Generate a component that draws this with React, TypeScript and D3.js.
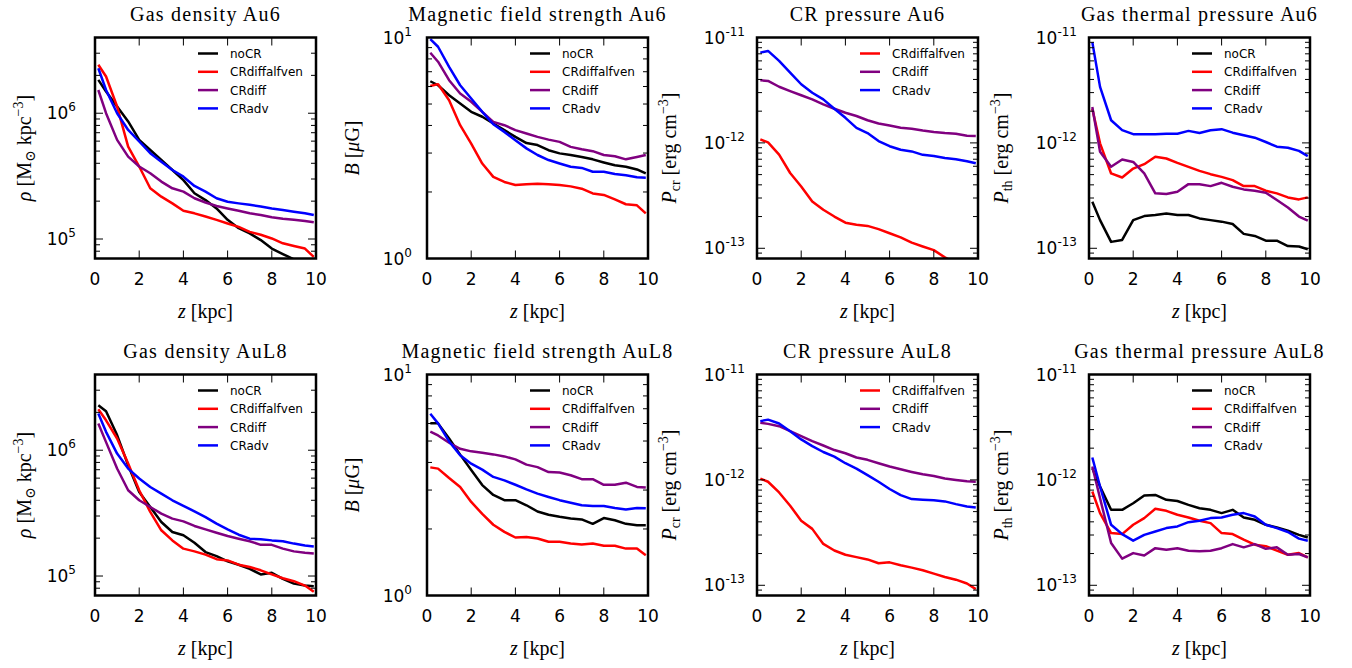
import React from 'react';
import * as d3 from 'd3';

// height above the mid-plane [kpc]
const Z = [0.15, 0.5, 1, 1.5, 2, 2.5, 3, 3.5, 4, 4.5, 5, 5.5, 6, 6.5, 7, 7.5, 8, 8.5, 9, 9.5, 9.9];

const X_TICKS = [0, 2, 4, 6, 8, 10];

// ---- Au6 ----
const rhoAu6_noCR = [1.84e6, 1.49e6, 1.13e6, 8.6e5, 6.14e5, 5.1e5, 4.26e5, 3.54e5, 2.94e5, 2.31e5, 2.04e5, 1.75e5, 1.42e5, 1.22e5, 1.11e5, 9.8e4, 8.4e4, 7.6e4, 6.9e4, 6.4e4, 6.0e4];
const rhoAu6_alf = [2.43e6, 1.96e6, 1.13e6, 5.43e5, 3.77e5, 2.53e5, 2.17e5, 1.92e5, 1.68e5, 1.6e5, 1.51e5, 1.42e5, 1.33e5, 1.25e5, 1.14e5, 1.08e5, 1.01e5, 9.25e4, 8.8e4, 8.4e4, 7.2e4];
const rhoAu6_diff = [1.53e6, 1.0e6, 6.14e5, 4.52e5, 3.77e5, 3.33e5, 2.86e5, 2.53e5, 2.38e5, 2.11e5, 1.95e5, 1.83e5, 1.75e5, 1.68e5, 1.6e5, 1.55e5, 1.49e5, 1.45e5, 1.42e5, 1.39e5, 1.36e5];
const rhoAu6_adv = [2.28e6, 1.53e6, 1.0e6, 7.36e5, 5.96e5, 4.81e5, 4.12e5, 3.54e5, 3.13e5, 2.64e5, 2.38e5, 2.11e5, 1.98e5, 1.92e5, 1.87e5, 1.81e5, 1.75e5, 1.7e5, 1.65e5, 1.6e5, 1.55e5];

const bAu6_noCR = [6.34, 6.08, 5.48, 5.03, 4.61, 4.38, 4.08, 3.81, 3.55, 3.33, 3.26, 3.09, 2.99, 2.94, 2.88, 2.81, 2.72, 2.64, 2.6, 2.53, 2.43];
const bAu6_alf = [6.03, 6.15, 5.2, 4.01, 3.31, 2.69, 2.34, 2.22, 2.15, 2.17, 2.18, 2.17, 2.15, 2.12, 2.07, 1.97, 1.94, 1.85, 1.76, 1.74, 1.6];
const bAu6_diff = [8.53, 7.77, 6.41, 5.58, 5.12, 4.61, 4.15, 4.01, 3.81, 3.68, 3.55, 3.45, 3.37, 3.2, 3.12, 3.06, 2.94, 2.9, 2.81, 2.88, 2.94];
const bAu6_adv = [9.83, 9.08, 7.37, 6.08, 5.3, 4.61, 4.05, 3.74, 3.43, 3.15, 2.94, 2.79, 2.69, 2.6, 2.57, 2.47, 2.47, 2.41, 2.38, 2.33, 2.32];

const pcrAu6_alf = [1.08e-12, 1.01e-12, 7.74e-13, 5.18e-13, 3.86e-13, 2.78e-13, 2.32e-13, 2.0e-13, 1.75e-13, 1.67e-13, 1.63e-13, 1.52e-13, 1.39e-13, 1.27e-13, 1.13e-13, 1.04e-13, 9.6e-14, 8.2e-14, 7.2e-14, 6.4e-14, 5.9e-14];
const pcrAu6_diff = [3.93e-12, 3.87e-12, 3.41e-12, 3.1e-12, 2.83e-12, 2.59e-12, 2.32e-12, 2.11e-12, 1.93e-12, 1.8e-12, 1.64e-12, 1.53e-12, 1.46e-12, 1.39e-12, 1.36e-12, 1.31e-12, 1.27e-12, 1.24e-12, 1.22e-12, 1.17e-12, 1.16e-12];
const pcrAu6_adv = [7.19e-12, 7.46e-12, 6.0e-12, 4.64e-12, 3.6e-12, 2.99e-12, 2.59e-12, 2.11e-12, 1.73e-12, 1.39e-12, 1.24e-12, 1.04e-12, 9.3e-13, 8.6e-13, 8.3e-13, 7.7e-13, 7.5e-13, 7.2e-13, 7.0e-13, 6.7e-13, 6.4e-13];

const pthAu6_noCR = [2.77e-13, 1.85e-13, 1.15e-13, 1.2e-13, 1.85e-13, 2.02e-13, 2.07e-13, 2.14e-13, 2.07e-13, 2.07e-13, 1.92e-13, 1.85e-13, 1.79e-13, 1.7e-13, 1.37e-13, 1.31e-13, 1.18e-13, 1.18e-13, 1.05e-13, 1.04e-13, 9.8e-14];
const pthAu6_alf = [2.11e-12, 9.9e-13, 5.13e-13, 4.7e-13, 5.71e-13, 6.28e-13, 7.38e-13, 7.11e-13, 6.47e-13, 5.93e-13, 5.43e-13, 5.05e-13, 4.76e-13, 4.43e-13, 3.89e-13, 3.89e-13, 3.52e-13, 3.32e-13, 3.04e-13, 2.91e-13, 3.04e-13];
const pthAu6_diff = [2.19e-12, 8.22e-13, 5.93e-13, 6.95e-13, 6.6e-13, 5.13e-13, 3.32e-13, 3.27e-13, 3.44e-13, 4.06e-13, 4.06e-13, 3.89e-13, 4.18e-13, 3.84e-13, 3.62e-13, 3.52e-13, 3.37e-13, 2.87e-13, 2.44e-13, 2.0e-13, 1.83e-13];
const pthAu6_adv = [9.04e-12, 3.4e-12, 1.64e-12, 1.32e-12, 1.21e-12, 1.21e-12, 1.21e-12, 1.22e-12, 1.22e-12, 1.3e-12, 1.24e-12, 1.32e-12, 1.35e-12, 1.25e-12, 1.18e-12, 1.12e-12, 1.02e-12, 9.2e-13, 9.0e-13, 8.4e-13, 7.5e-13];

// ---- AuL8 ----
const rhoL8_noCR = [2.28e6, 2.04e6, 1.32e6, 7.6e5, 4.66e5, 3.54e5, 2.69e5, 2.24e5, 2.11e5, 1.84e5, 1.55e5, 1.44e5, 1.31e5, 1.23e5, 1.14e5, 1.03e5, 1.06e5, 9.5e4, 8.7e4, 8.4e4, 8.3e4];
const rhoL8_alf = [2.12e6, 1.73e6, 1.24e6, 7.83e5, 4.81e5, 3.23e5, 2.31e5, 1.92e5, 1.65e5, 1.57e5, 1.48e5, 1.36e5, 1.33e5, 1.23e5, 1.18e5, 1.11e5, 1.03e5, 9.6e4, 9.1e4, 8.4e4, 7.5e4];
const rhoL8_diff = [1.63e6, 1.16e6, 7.15e5, 4.81e5, 4.0e5, 3.54e5, 3.13e5, 2.86e5, 2.72e5, 2.5e5, 2.35e5, 2.21e5, 2.08e5, 1.98e5, 1.89e5, 1.77e5, 1.77e5, 1.65e5, 1.57e5, 1.53e5, 1.51e5];
const rhoL8_adv = [1.96e6, 1.4e6, 9.4e5, 7.15e5, 5.96e5, 5.1e5, 4.52e5, 4.0e5, 3.61e5, 3.27e5, 2.94e5, 2.61e5, 2.35e5, 2.13e5, 1.98e5, 1.96e5, 1.92e5, 1.89e5, 1.81e5, 1.75e5, 1.72e5];

const bL8_noCR = [6.01, 6.01, 5.14, 4.34, 3.7, 3.16, 2.85, 2.7, 2.7, 2.56, 2.4, 2.32, 2.27, 2.23, 2.21, 2.11, 2.24, 2.19, 2.11, 2.08, 2.08];
const bL8_alf = [3.8, 3.75, 3.4, 3.1, 2.65, 2.34, 2.09, 1.94, 1.83, 1.84, 1.81, 1.75, 1.75, 1.72, 1.7, 1.72, 1.68, 1.68, 1.63, 1.63, 1.52];
const bL8_diff = [5.52, 5.3, 4.91, 4.61, 4.49, 4.43, 4.35, 4.26, 4.13, 3.91, 3.81, 3.62, 3.6, 3.5, 3.36, 3.36, 3.17, 3.17, 3.24, 3.1, 3.08];
const bL8_adv = [6.64, 6.01, 4.98, 4.31, 3.95, 3.71, 3.44, 3.32, 3.17, 3.02, 2.89, 2.79, 2.7, 2.63, 2.56, 2.54, 2.54, 2.49, 2.45, 2.49, 2.48];

const pcrL8_alf = [1.03e-12, 9.6e-13, 7.6e-13, 5.69e-13, 4.1e-13, 3.43e-13, 2.47e-13, 2.14e-13, 1.95e-13, 1.85e-13, 1.76e-13, 1.62e-13, 1.65e-13, 1.55e-13, 1.47e-13, 1.39e-13, 1.29e-13, 1.2e-13, 1.13e-13, 1.04e-13, 9.2e-14];
const pcrL8_diff = [3.48e-12, 3.4e-12, 3.23e-12, 2.9e-12, 2.6e-12, 2.33e-12, 2.12e-12, 1.92e-12, 1.79e-12, 1.63e-12, 1.55e-12, 1.44e-12, 1.34e-12, 1.26e-12, 1.19e-12, 1.13e-12, 1.09e-12, 1.03e-12, 1.0e-12, 9.7e-13, 9.6e-13];
const pcrL8_adv = [3.61e-12, 3.73e-12, 3.43e-12, 2.9e-12, 2.42e-12, 2.09e-12, 1.84e-12, 1.66e-12, 1.44e-12, 1.28e-12, 1.11e-12, 9.6e-13, 8.2e-13, 7.16e-13, 6.57e-13, 6.47e-13, 6.4e-13, 6.25e-13, 5.89e-13, 5.6e-13, 5.48e-13];

const pthL8_noCR = [1.29e-12, 8.65e-13, 5.2e-13, 5.2e-13, 6.0e-13, 7.1e-13, 7.2e-13, 6.47e-13, 6.3e-13, 5.8e-13, 5.39e-13, 5.2e-13, 4.84e-13, 5.2e-13, 4.4e-13, 4.18e-13, 3.75e-13, 3.54e-13, 3.29e-13, 3.01e-13, 2.84e-13];
const pthL8_alf = [7.76e-13, 4.84e-13, 3.13e-13, 3.06e-13, 3.75e-13, 4.34e-13, 5.32e-13, 5.09e-13, 4.67e-13, 4.4e-13, 4.09e-13, 3.89e-13, 3.13e-13, 3.06e-13, 2.71e-13, 2.43e-13, 2.35e-13, 2.13e-13, 1.95e-13, 2.02e-13, 1.84e-13];
const pthL8_diff = [1.34e-12, 6.7e-13, 2.52e-13, 1.79e-13, 2.02e-13, 1.92e-13, 2.25e-13, 2.17e-13, 2.25e-13, 2.13e-13, 2.1e-13, 2.13e-13, 2.25e-13, 2.46e-13, 2.29e-13, 2.46e-13, 2.22e-13, 2.29e-13, 1.95e-13, 1.98e-13, 1.84e-13];
const pthL8_adv = [1.63e-12, 8.65e-13, 3.75e-13, 3.06e-13, 2.65e-13, 3.01e-13, 3.24e-13, 3.49e-13, 3.62e-13, 3.97e-13, 4.09e-13, 4.34e-13, 4.4e-13, 4.67e-13, 4.84e-13, 4.5e-13, 3.75e-13, 3.49e-13, 3.2e-13, 2.77e-13, 2.65e-13];

const COLORS: Record<string, string> = {
  noCR: '#000000',
  CRdiffalfven: '#ff0000',
  CRdiff: '#800080',
  CRadv: '#0000ff',
};

type Kind = 'rho' | 'B' | 'Pcr' | 'Pth';
type Series = { name: string; values: number[] };
type Panel = { title: string; kind: Kind; series: Series[] };

const DOMAINS: Record<Kind, [number, number]> = {
  rho: [7e4, 4e6],
  B: [1, 10],
  Pcr: [8e-14, 1e-11],
  Pth: [8e-14, 1e-11],
};

const PANELS: Panel[] = [
  { title: 'Gas density Au6', kind: 'rho', series: [
    { name: 'noCR', values: rhoAu6_noCR }, { name: 'CRdiffalfven', values: rhoAu6_alf },
    { name: 'CRdiff', values: rhoAu6_diff }, { name: 'CRadv', values: rhoAu6_adv }] },
  { title: 'Magnetic field strength Au6', kind: 'B', series: [
    { name: 'noCR', values: bAu6_noCR }, { name: 'CRdiffalfven', values: bAu6_alf },
    { name: 'CRdiff', values: bAu6_diff }, { name: 'CRadv', values: bAu6_adv }] },
  { title: 'CR pressure Au6', kind: 'Pcr', series: [
    { name: 'CRdiffalfven', values: pcrAu6_alf }, { name: 'CRdiff', values: pcrAu6_diff },
    { name: 'CRadv', values: pcrAu6_adv }] },
  { title: 'Gas thermal pressure Au6', kind: 'Pth', series: [
    { name: 'noCR', values: pthAu6_noCR }, { name: 'CRdiffalfven', values: pthAu6_alf },
    { name: 'CRdiff', values: pthAu6_diff }, { name: 'CRadv', values: pthAu6_adv }] },
  { title: 'Gas density AuL8', kind: 'rho', series: [
    { name: 'noCR', values: rhoL8_noCR }, { name: 'CRdiffalfven', values: rhoL8_alf },
    { name: 'CRdiff', values: rhoL8_diff }, { name: 'CRadv', values: rhoL8_adv }] },
  { title: 'Magnetic field strength AuL8', kind: 'B', series: [
    { name: 'noCR', values: bL8_noCR }, { name: 'CRdiffalfven', values: bL8_alf },
    { name: 'CRdiff', values: bL8_diff }, { name: 'CRadv', values: bL8_adv }] },
  { title: 'CR pressure AuL8', kind: 'Pcr', series: [
    { name: 'CRdiffalfven', values: pcrL8_alf }, { name: 'CRdiff', values: pcrL8_diff },
    { name: 'CRadv', values: pcrL8_adv }] },
  { title: 'Gas thermal pressure AuL8', kind: 'Pth', series: [
    { name: 'noCR', values: pthL8_noCR }, { name: 'CRdiffalfven', values: pthL8_alf },
    { name: 'CRdiff', values: pthL8_diff }, { name: 'CRadv', values: pthL8_adv }] },
];

const LAYOUT = {
  colX: [95, 427, 757, 1089],
  rowY: [37.5, 374.5],
  w: 221,
  h: 221,
  yPad: [19, 15, 12, 12],
  ylabelOff: [-70, -74, -87, -87],
};

const SANS = "'DejaVu Sans', sans-serif";
const SERIF = "'Liberation Serif', 'DejaVu Serif', serif";

function YLabel({ kind }: { kind: Kind }) {
  const sub = 14;
  if (kind === 'rho') {
    return (
      <>
        <tspan fontStyle="italic">ρ</tspan>
        <tspan> [M</tspan>
        <tspan dy={4} fontSize={sub}>⊙</tspan>
        <tspan dy={-4}> kpc</tspan>
        <tspan dy={-8} fontSize={sub}>−3</tspan>
        <tspan dy={8}>]</tspan>
      </>
    );
  }
  if (kind === 'B') {
    return (
      <>
        <tspan fontStyle="italic">B</tspan>
        <tspan> [</tspan>
        <tspan fontStyle="italic">μ</tspan>
        <tspan>G]</tspan>
      </>
    );
  }
  const s = kind === 'Pcr' ? 'cr' : 'th';
  return (
    <>
      <tspan fontStyle="italic">P</tspan>
      <tspan dy={4} fontSize={sub}>{s}</tspan>
      <tspan dy={-4}> [erg cm</tspan>
      <tspan dy={-8} fontSize={sub}>−3</tspan>
      <tspan dy={8}>]</tspan>
    </>
  );
}

function PanelView({ p, idx }: { p: Panel; idx: number }) {
  const col = idx % 4;
  const row = Math.floor(idx / 4);
  const x0 = LAYOUT.colX[col];
  const y0 = LAYOUT.rowY[row];
  const { w, h } = LAYOUT;
  const x = d3.scaleLinear().domain([0, 10]).range([x0, x0 + w]);
  const y = d3.scaleLog().domain(DOMAINS[p.kind]).range([y0 + h, y0]);
  const line = d3
    .line<number>()
    .x((_, i) => x(Z[i]))
    .y((v) => y(v));
  const yt = y.ticks();
  const isMajor = (v: number) => Math.abs(Math.log10(v) - Math.round(Math.log10(v))) < 1e-6;
  const clipId = `clip${idx}`;
  const legendRows = p.series.map((s) => s.name);

  return (
    <g>
      <defs>
        <clipPath id={clipId}>
          <rect x={x0} y={y0} width={w} height={h} />
        </clipPath>
      </defs>
      {/* title */}
      <text x={x0 + w / 2} y={y0 - 17} textAnchor="middle" fontFamily={SERIF} fontSize={20} letterSpacing={1.25}>
        {p.title}
      </text>
      {/* data */}
      <g clipPath={`url(#${clipId})`}>
        {p.series.map((s) => (
          <path key={s.name} d={line(s.values) || ''} fill="none" stroke={COLORS[s.name]} strokeWidth={2.5} strokeLinejoin="round" />
        ))}
      </g>
      {/* y ticks */}
      {yt.map((v, i) => {
        const len = isMajor(v) ? 8 : 5;
        const yy = y(v);
        return (
          <g key={'yt' + i}>
            <line x1={x0} x2={x0 + len} y1={yy} y2={yy} stroke="#000" strokeWidth={1} />
            <line x1={x0 + w - len} x2={x0 + w} y1={yy} y2={yy} stroke="#000" strokeWidth={1} />
          </g>
        );
      })}
      {/* y tick labels */}
      {yt.filter(isMajor).map((v, i) => {
        const e = Math.round(Math.log10(v));
        return (
          <text key={'yl' + i} x={x0 - LAYOUT.yPad[col]} y={y(v) + 6} textAnchor="end" fontFamily={SANS} fontSize={17}>
            10<tspan dy={-8} fontSize={12}>{e < 0 ? '-' + Math.abs(e) : String(e)}</tspan>
          </text>
        );
      })}
      {/* x ticks */}
      {X_TICKS.map((v) => (
        <g key={'xt' + v}>
          <line x1={x(v)} x2={x(v)} y1={y0 + h} y2={y0 + h - 8} stroke="#000" strokeWidth={1} />
          <line x1={x(v)} x2={x(v)} y1={y0} y2={y0 + 8} stroke="#000" strokeWidth={1} />
          <text x={x(v)} y={y0 + h + 26} textAnchor="middle" fontFamily={SANS} fontSize={17}>
            {v}
          </text>
        </g>
      ))}
      {/* frame */}
      <rect x={x0} y={y0} width={w} height={h} fill="none" stroke="#000" strokeWidth={2.5} />
      {/* x label */}
      <text x={x0 + w / 2} y={y0 + h + 59} textAnchor="middle" fontFamily={SERIF} fontSize={20}>
        <tspan fontStyle="italic">z</tspan> [kpc]
      </text>
      {/* y label */}
      <text
        transform={`translate(${x0 + LAYOUT.ylabelOff[col]},${y0 + h / 2}) rotate(-90)`}
        y={6}
        textAnchor="middle"
        fontFamily={SERIF}
        fontSize={20}
      >
        <YLabel kind={p.kind} />
      </text>
      {/* legend */}
      {legendRows.map((name, i) => {
        const ly = y0 + 16 + i * 18.3;
        return (
          <g key={'lg' + name}>
            <line x1={x0 + 103} x2={x0 + 123} y1={ly} y2={ly} stroke={COLORS[name]} strokeWidth={2.5} />
            <text x={x0 + 135} y={ly + 4.5} fontFamily={SANS} fontSize={12}>
              {name}
            </text>
          </g>
        );
      })}
    </g>
  );
}

export default function App() {
  return (
    <svg
      width={1352}
      height={668}
      viewBox="0 0 1352 668"
      style={{ position: 'absolute', left: 0, top: 0, background: '#fff' }}
    >
      <rect x={0} y={0} width={1352} height={668} fill="#fff" />
      {PANELS.map((p, i) => (
        <PanelView key={i} p={p} idx={i} />
      ))}
    </svg>
  );
}
